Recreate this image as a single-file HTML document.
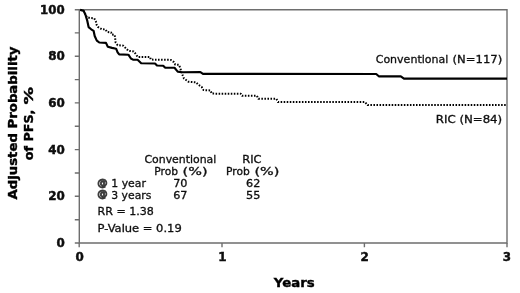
<!DOCTYPE html>
<html><head><meta charset="utf-8"><title>Adjusted Probability of PFS</title>
<style>
html,body{margin:0;padding:0;background:#fff;}
body{width:520px;height:293px;overflow:hidden;}
svg{display:block;}
text{font-family:"DejaVu Sans","Liberation Sans",sans-serif;fill:#111;}
.b{font-weight:bold;stroke:#000;stroke-width:0.4px;fill:#000;}
.t{font-size:11.4px;}
.r{font-size:10.7px;fill:#111;stroke:#111;stroke-width:0.32px;}
.at{font-size:10.4px;font-weight:bold;fill:#3a3a3a;stroke:#3a3a3a;stroke-width:0.8px;}
.ax{font-size:12.7px;font-weight:bold;stroke:#000;stroke-width:0.4px;fill:#000;}
</style></head><body>
<svg width="520" height="293" viewBox="0 0 520 293">
<defs><filter id="soft" x="-5%" y="-5%" width="110%" height="110%"><feGaussianBlur stdDeviation="0.38"/></filter></defs>
<rect width="520" height="293" fill="#fff"/>
<g filter="url(#soft)">
<!-- frame -->
<g stroke="#6e6e6e" stroke-width="1.4" fill="none">
<path d="M79.3 9.8H507V243H79.3Z"/>
<path d="M74.8 9.8H79.2M74.8 32.9H79.2M74.8 56.2H79.2M74.8 79.6H79.2M74.8 102.9H79.2M74.8 126.3H79.2M74.8 149.6H79.2M74.8 173H79.2M74.8 196.3H79.2M74.8 219.7H79.2M74.8 243H79.2"/>
<path d="M79.2 243V247.3M222 243V247.3M364.4 243V247.3M507 243V247.3"/>
</g>
<!-- curves -->
<polyline id="dot" fill="none" stroke="#000" stroke-width="2" stroke-dasharray="1.55 1.49" stroke-linejoin="round"
 points="80.2,9.9 83.5,10.7 86,15.7 86.9,17.2 90,18 94.2,18.3 95.8,21.2 96.8,25.3 97.8,26.8 101.9,29.3 105.5,29.4 107,31.9 111.1,32.4 111.6,34.5 114.7,35 115.2,38.6 115.6,42.5 117.6,45.2 123.3,45.7 128.4,50.8 133.5,51.4 136.1,54.4 137.6,56.9 149.9,56.9 150.9,59.6 170.7,59.9 173.9,62.1 175.2,64.6 178.9,64.8 180.2,67.8 181.5,72.2 182.7,75.4 184,78.5 188.4,81.7 196,82.3 198.5,84.8 201.7,86.9 203.5,90.1 210.4,90.4 211.8,93.6 240.8,93.8 242,95.8 256.8,95.8 258.4,98.7 276.3,98.7 278,102 365,102 367.6,105.1 507,105.1"/>
<polyline id="sol" fill="none" stroke="#000" stroke-width="2.15" stroke-linejoin="round"
 points="80.2,9.9 83.5,10.7 85.2,14 87.1,20.1 88.6,27.1 91.2,29.3 93.6,30.8 94.7,36 96.8,40.6 99.3,42.5 106,42.9 107.8,46.7 112,47.9 116.1,48.7 117.6,52.3 119.2,54.4 128.4,54.7 130.9,58.5 133,59.6 137.6,59.8 141.2,63.2 155,63.5 157,65.5 163.2,65.8 165,67.6 174.5,67.8 177.7,71.6 182,72.2 200.4,72.1 203,73.8 376.2,74 378.8,76.3 400.8,76.3 404,78.6 507,78.6"/>
<!-- y tick labels -->
<g class="b t" text-anchor="end">
<text x="64.6" y="14.1" textLength="24.6" lengthAdjust="spacingAndGlyphs">100</text>
<text x="64.8" y="60.3" textLength="16.6" lengthAdjust="spacingAndGlyphs">80</text>
<text x="64.8" y="107.0" textLength="16.6" lengthAdjust="spacingAndGlyphs">60</text>
<text x="64.8" y="153.6" textLength="16.6" lengthAdjust="spacingAndGlyphs">40</text>
<text x="64.8" y="200.2" textLength="16.6" lengthAdjust="spacingAndGlyphs">20</text>
<text x="64.8" y="246.5" textLength="8.3" lengthAdjust="spacingAndGlyphs">0</text>
</g>
<!-- x tick labels -->
<g class="b t" text-anchor="middle">
<text x="79.6" y="260.8" textLength="8.3" lengthAdjust="spacingAndGlyphs">0</text>
<text x="222.4" y="260.8" textLength="8.3" lengthAdjust="spacingAndGlyphs">1</text>
<text x="364.6" y="260.8" textLength="8.3" lengthAdjust="spacingAndGlyphs">2</text>
<text x="507" y="260.8" textLength="8.3" lengthAdjust="spacingAndGlyphs">3</text>
</g>
<text class="ax" x="273.8" y="287" textLength="40.8" style="font-size:12.8px" lengthAdjust="spacingAndGlyphs">Years</text>
<text class="ax" transform="translate(16.9 199.5) rotate(-90)" textLength="152.9" lengthAdjust="spacingAndGlyphs">Adjusted Probability</text>
<text class="ax" transform="translate(32.7 160.2) rotate(-90)" textLength="50.6" lengthAdjust="spacingAndGlyphs">of PFS,</text>
<text class="ax" transform="translate(32.7 104.4) rotate(-90)" textLength="17.6" lengthAdjust="spacingAndGlyphs">%</text>
<!-- curve labels -->
<text class="r" x="375.7" y="63.4" textLength="72.6" lengthAdjust="spacingAndGlyphs" style="font-size:11px">Conventional</text><text class="r" x="452.6" y="63.4" textLength="49.6" lengthAdjust="spacingAndGlyphs" style="font-size:11px">(N=117)</text>
<text class="r" x="435.8" y="122.8" textLength="66.4" lengthAdjust="spacingAndGlyphs">RIC (N=84)</text>
<!-- table -->
<text class="r" x="144.5" y="163" textLength="71.8" lengthAdjust="spacingAndGlyphs">Conventional</text>
<text class="r" x="242.2" y="163" textLength="19.3" lengthAdjust="spacingAndGlyphs">RIC</text>
<text class="r" x="154.3" y="174.7" textLength="23.7" lengthAdjust="spacingAndGlyphs">Prob</text><text class="r" x="182.6" y="174.7" textLength="25" lengthAdjust="spacingAndGlyphs">(%)</text>
<text class="r" x="226.1" y="174.7" textLength="23.7" lengthAdjust="spacingAndGlyphs">Prob</text><text class="r" x="254.4" y="174.7" textLength="25" lengthAdjust="spacingAndGlyphs">(%)</text>
<text class="r at" x="97.3" y="185.6">@</text><text class="r" x="111.3" y="186.5" textLength="34.6" lengthAdjust="spacingAndGlyphs">1 year</text>
<text class="r" x="173.2" y="186.5" textLength="14.3" lengthAdjust="spacingAndGlyphs">70</text>
<text class="r" x="246" y="186.5" textLength="14.3" lengthAdjust="spacingAndGlyphs">62</text>
<text class="r at" x="97.3" y="197.3">@</text><text class="r" x="111.3" y="198.5" textLength="40.1" lengthAdjust="spacingAndGlyphs">3 years</text>
<text class="r" x="173.2" y="198.5" textLength="14.3" lengthAdjust="spacingAndGlyphs">67</text>
<text class="r" x="246" y="198.5" textLength="14.3" lengthAdjust="spacingAndGlyphs">55</text>
<text class="r" x="97.5" y="215.4" textLength="56.3" lengthAdjust="spacingAndGlyphs">RR = 1.38</text>
<text class="r" x="97.5" y="232.1" textLength="84.2" lengthAdjust="spacingAndGlyphs">P-Value = 0.19</text>
</g>
</svg>
</body></html>
